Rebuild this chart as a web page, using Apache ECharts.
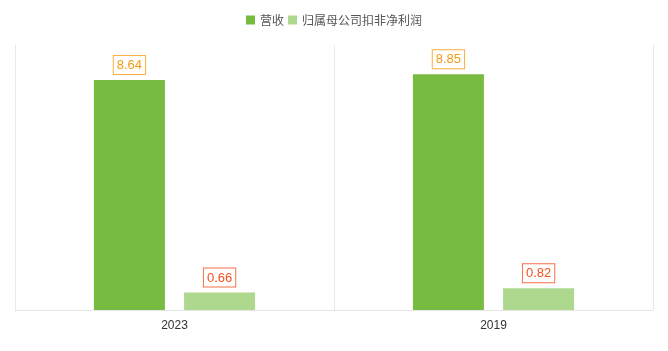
<!DOCTYPE html>
<html>
<head>
<meta charset="utf-8">
<script src="https://cdn.jsdelivr.net/npm/echarts@6/dist/echarts.min.js"></script>
<style>
	html, body { margin: 0; padding: 0; background: #fff; }
	#main { width: 668px; height: 351px; }
</style>
</head>
<body>
<div id="main"></div>
<script>
	//数据
	var categories = ['2023', '2019'];
	var revenue = [8.64, 8.85];
	var netProfit = [0.66, 0.82];
	var seriesNames = ['营收', '归属母公司扣非净利润'];

	var chart = echarts.init(document.getElementById('main'));

	//标签样式
	var labelStyle = function(color, border){
		return {
			show: true,
			position: 'top',
			distance: 6,
			color: color,
			fontSize: 13,
			fontFamily: 'Arial, "Liberation Sans", sans-serif',
			borderColor: border,
			borderWidth: 1,
			padding: [3, 3, 2, 3],
			backgroundColor: '#fff'
		};
	};

	var option = {
		animation: false,
		legend: {
			top: 9,
			left: 'center',
			itemWidth: 9,
			itemHeight: 9,
			itemGap: 4,
			icon: 'rect',
			textStyle: { color: '#555', fontSize: 12, fontFamily: '"Noto Sans CJK SC", sans-serif' },
			data: seriesNames
		},
		grid: { left: 15, right: 15, top: 45, bottom: 41, containLabel: false },
		xAxis: {
			type: 'category',
			data: categories,
			axisLine: { lineStyle: { color: '#e6e6e6' } },
			axisTick: { show: false },
			axisLabel: { color: '#333', fontSize: 12, margin: 10, fontFamily: 'Arial, "Liberation Sans", sans-serif' },
			splitLine: { show: true, lineStyle: { color: '#e8e8e8' } }
		},
		yAxis: {
			type: 'value',
			min: 0,
			max: 9.95,
			show: false
		},
		series: [
			{
				name: seriesNames[0],
				type: 'bar',
				data: revenue,
				barWidth: 71,
				barGap: '27%',
				itemStyle: { color: '#77bb41' },
				label: labelStyle('#f39c12', '#f8b040')
			},
			{
				name: seriesNames[1],
				type: 'bar',
				data: netProfit,
				barWidth: 71,
				itemStyle: { color: '#add88d' },
				label: labelStyle('#f4511e', '#f57048')
			}
		]
	};
	chart.setOption(option);
</script>
</body>
</html>
